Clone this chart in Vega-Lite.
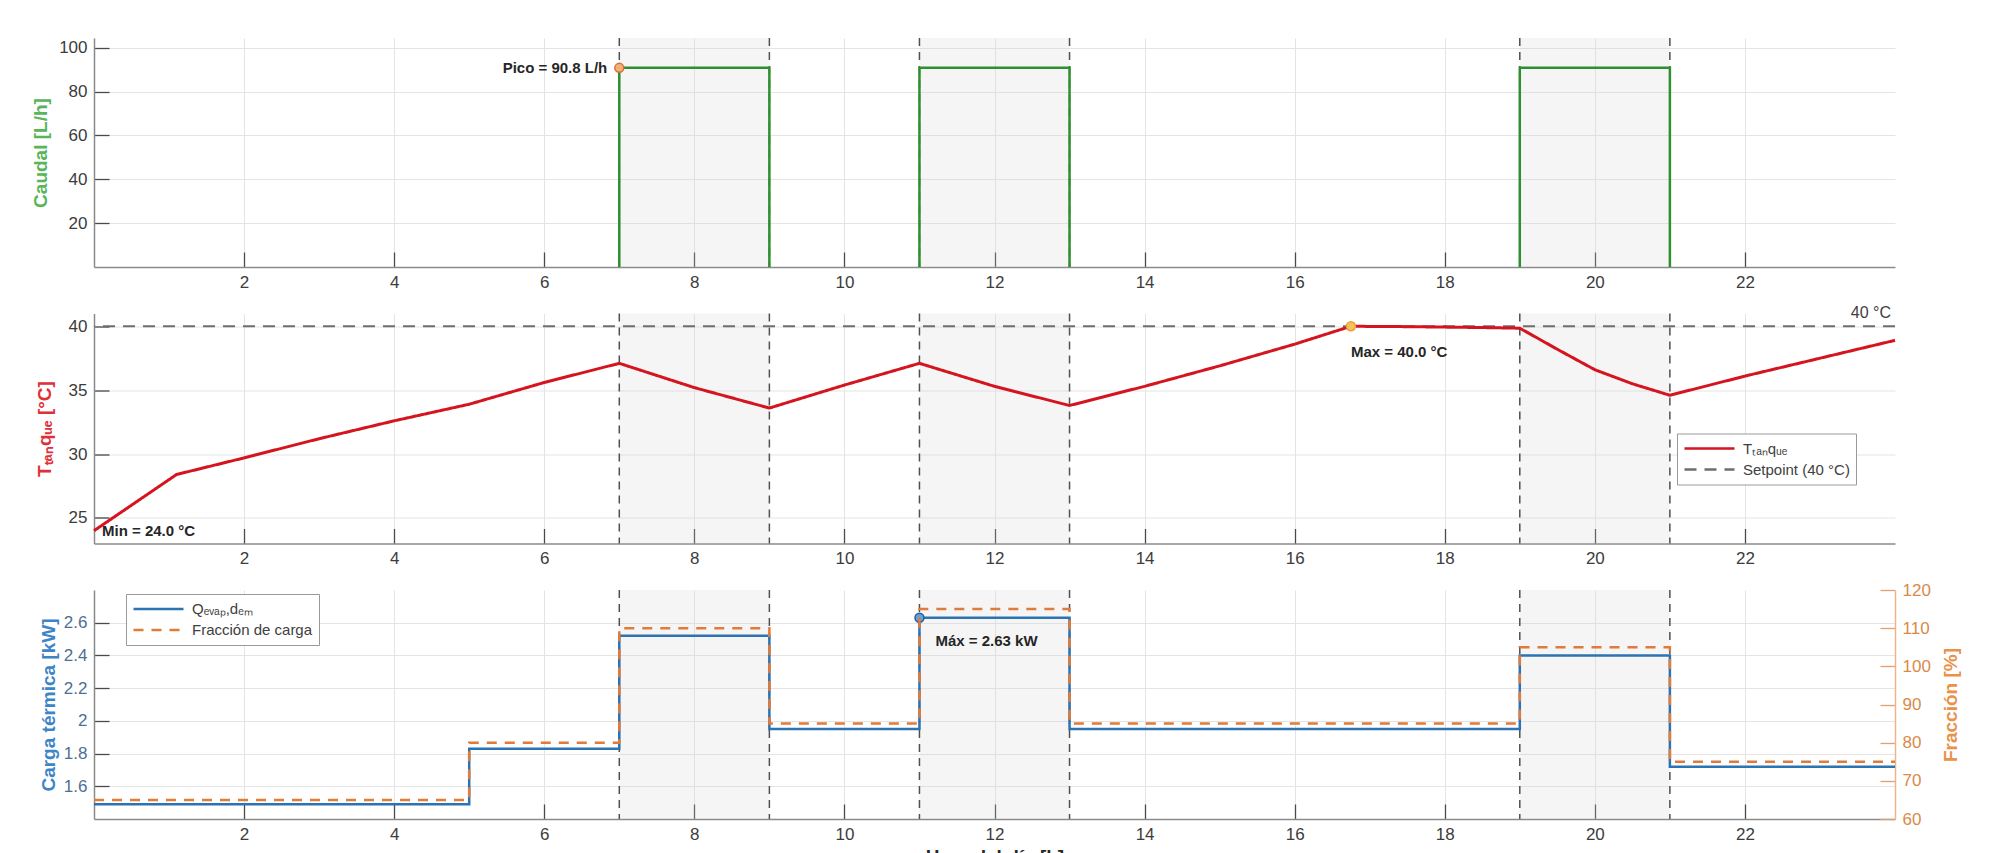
{
  "$schema": "https://vega.github.io/schema/vega-lite/v6.json",
  "padding": {"left": 31, "top": 37, "right": 5, "bottom": 0},
  "background": "white",
  "datasets": {
    "franjas": [{"t": 7, "t_fin": 9}, {"t": 11, "t_fin": 13}, {"t": 19, "t_fin": 21}],
    "eventos": [{"t": 7}, {"t": 9}, {"t": 11}, {"t": 13}, {"t": 19}, {"t": 21}],
    "caudal": [
      {"t": 7, "caudal": 0, "pulso": 1}, {"t": 7, "caudal": 90.8, "pulso": 1}, {"t": 9, "caudal": 90.8, "pulso": 1}, {"t": 9, "caudal": 0, "pulso": 1},
      {"t": 11, "caudal": 0, "pulso": 2}, {"t": 11, "caudal": 90.8, "pulso": 2}, {"t": 13, "caudal": 90.8, "pulso": 2}, {"t": 13, "caudal": 0, "pulso": 2},
      {"t": 19, "caudal": 0, "pulso": 3}, {"t": 19, "caudal": 90.8, "pulso": 3}, {"t": 21, "caudal": 90.8, "pulso": 3}, {"t": 21, "caudal": 0, "pulso": 3}
    ],
    "pico": [{"t": 7, "caudal": 90.8, "etiqueta": "Pico = 90.8 L/h"}],
    "temp": [
      {"t": 0, "T": 24.0, "serie": "Tₜₐₙqᵤₑ"}, {"t": 1.1, "T": 28.4, "serie": "Tₜₐₙqᵤₑ"},
      {"t": 2, "T": 29.7, "serie": "Tₜₐₙqᵤₑ"}, {"t": 3, "T": 31.2, "serie": "Tₜₐₙqᵤₑ"},
      {"t": 4, "T": 32.6, "serie": "Tₜₐₙqᵤₑ"}, {"t": 5, "T": 33.9, "serie": "Tₜₐₙqᵤₑ"},
      {"t": 6, "T": 35.6, "serie": "Tₜₐₙqᵤₑ"}, {"t": 7, "T": 37.1, "serie": "Tₜₐₙqᵤₑ"},
      {"t": 8, "T": 35.2, "serie": "Tₜₐₙqᵤₑ"}, {"t": 9, "T": 33.6, "serie": "Tₜₐₙqᵤₑ"},
      {"t": 10, "T": 35.4, "serie": "Tₜₐₙqᵤₑ"}, {"t": 11, "T": 37.1, "serie": "Tₜₐₙqᵤₑ"},
      {"t": 12, "T": 35.3, "serie": "Tₜₐₙqᵤₑ"}, {"t": 13, "T": 33.8, "serie": "Tₜₐₙqᵤₑ"},
      {"t": 14, "T": 35.3, "serie": "Tₜₐₙqᵤₑ"}, {"t": 15, "T": 36.9, "serie": "Tₜₐₙqᵤₑ"},
      {"t": 16, "T": 38.6, "serie": "Tₜₐₙqᵤₑ"}, {"t": 16.75, "T": 40.0, "serie": "Tₜₐₙqᵤₑ"},
      {"t": 17.5, "T": 39.97, "serie": "Tₜₐₙqᵤₑ"}, {"t": 18.5, "T": 39.9, "serie": "Tₜₐₙqᵤₑ"},
      {"t": 19, "T": 39.85, "serie": "Tₜₐₙqᵤₑ"}, {"t": 19.5, "T": 38.2, "serie": "Tₜₐₙqᵤₑ"},
      {"t": 20, "T": 36.6, "serie": "Tₜₐₙqᵤₑ"}, {"t": 20.5, "T": 35.5, "serie": "Tₜₐₙqᵤₑ"},
      {"t": 21, "T": 34.6, "serie": "Tₜₐₙqᵤₑ"}, {"t": 22, "T": 36.1, "serie": "Tₜₐₙqᵤₑ"},
      {"t": 23, "T": 37.5, "serie": "Tₜₐₙqᵤₑ"}, {"t": 24, "T": 38.9, "serie": "Tₜₐₙqᵤₑ"}
    ],
    "setpoint": [{"T": 40, "serie": "Setpoint (40 °C)"}],
    "tmin": [{"t": 0, "T": 24.0, "etiqueta": "Min = 24.0 °C"}],
    "tmax": [{"t": 16.75, "T": 40.0, "etiqueta": "Max = 40.0 °C"}],
    "splabel": [{"t": 24, "T": 40, "etiqueta": "40 °C"}],
    "carga": [
      {"t": 0, "Q": 1.49, "serie": "Qₑᵥₐₚ,dₑₘ"}, {"t": 5, "Q": 1.83, "serie": "Qₑᵥₐₚ,dₑₘ"},
      {"t": 7, "Q": 2.52, "serie": "Qₑᵥₐₚ,dₑₘ"}, {"t": 9, "Q": 1.95, "serie": "Qₑᵥₐₚ,dₑₘ"},
      {"t": 11, "Q": 2.63, "serie": "Qₑᵥₐₚ,dₑₘ"}, {"t": 13, "Q": 1.95, "serie": "Qₑᵥₐₚ,dₑₘ"},
      {"t": 19, "Q": 2.40, "serie": "Qₑᵥₐₚ,dₑₘ"}, {"t": 21, "Q": 1.72, "serie": "Qₑᵥₐₚ,dₑₘ"},
      {"t": 24, "Q": 1.72, "serie": "Qₑᵥₐₚ,dₑₘ"}
    ],
    "fraccion": [
      {"t": 0, "F": 65, "serie": "Fracción de carga"}, {"t": 5, "F": 80, "serie": "Fracción de carga"},
      {"t": 7, "F": 110, "serie": "Fracción de carga"}, {"t": 9, "F": 85, "serie": "Fracción de carga"},
      {"t": 11, "F": 115, "serie": "Fracción de carga"}, {"t": 13, "F": 85, "serie": "Fracción de carga"},
      {"t": 19, "F": 105, "serie": "Fracción de carga"}, {"t": 21, "F": 75, "serie": "Fracción de carga"},
      {"t": 24, "F": 75, "serie": "Fracción de carga"}
    ],
    "qmax": [{"t": 11, "Q": 2.63, "etiqueta": "Máx = 2.63 kW"}]
  },
  "vconcat": [
    {
      "width": 1801,
      "height": 229,
      "layer": [
        {
          "data": {"name": "franjas"},
          "mark": {"type": "rect", "color": "#d0d0d0", "opacity": 0.22},
          "encoding": {
            "x": {"field": "t", "type": "quantitative", "title": null,
                  "scale": {"domain": [0, 24], "nice": false, "zero": false},
                  "axis": {"values": [2, 4, 6, 8, 10, 12, 14, 16, 18, 20, 22]}},
            "x2": {"field": "t_fin"}
          }
        },
        {
          "data": {"name": "eventos"},
          "mark": {"type": "rule", "color": "#505050", "strokeDash": [8, 6], "strokeWidth": 1.5},
          "encoding": {"x": {"field": "t", "type": "quantitative", "title": null}}
        },
        {
          "data": {"name": "caudal"},
          "mark": {"type": "line", "color": "#2e8f2e", "strokeWidth": 2.5},
          "encoding": {
            "x": {"field": "t", "type": "quantitative", "title": null},
            "y": {"field": "caudal", "type": "quantitative", "title": "Caudal [L/h]",
                  "scale": {"domain": [0, 104.4], "nice": false},
                  "axis": {"values": [20, 40, 60, 80, 100], "titleColor": "#58b558", "titleX": -54}},
            "detail": {"field": "pulso", "type": "nominal"},
            "order": {"field": "orden_null", "type": "quantitative"}
          }
        },
        {
          "data": {"name": "pico"},
          "mark": {"type": "point", "shape": "circle", "filled": true, "fill": "#f0b07a", "stroke": "#d9702e", "strokeWidth": 1.5, "size": 80, "opacity": 1},
          "encoding": {
            "x": {"field": "t", "type": "quantitative", "title": null},
            "y": {"field": "caudal", "type": "quantitative", "title": "Caudal [L/h]"}
          }
        },
        {
          "data": {"name": "pico"},
          "mark": {"type": "text", "align": "right", "baseline": "middle", "dx": -12, "fontSize": 15, "fontWeight": "bold", "color": "#262626"},
          "encoding": {
            "x": {"field": "t", "type": "quantitative", "title": null},
            "y": {"field": "caudal", "type": "quantitative", "title": "Caudal [L/h]"},
            "text": {"field": "etiqueta"}
          }
        }
      ]
    },
    {
      "width": 1801,
      "height": 230,
      "layer": [
        {
          "data": {"name": "franjas"},
          "mark": {"type": "rect", "color": "#d0d0d0", "opacity": 0.22},
          "encoding": {
            "x": {"field": "t", "type": "quantitative", "title": null,
                  "scale": {"domain": [0, 24], "nice": false, "zero": false},
                  "axis": {"values": [2, 4, 6, 8, 10, 12, 14, 16, 18, 20, 22]}},
            "x2": {"field": "t_fin"}
          }
        },
        {
          "data": {"name": "eventos"},
          "mark": {"type": "rule", "color": "#505050", "strokeDash": [8, 6], "strokeWidth": 1.5},
          "encoding": {"x": {"field": "t", "type": "quantitative", "title": null}}
        },
        {
          "data": {"name": "setpoint"},
          "mark": {"type": "rule", "strokeWidth": 2},
          "encoding": {
            "y": {"field": "T", "type": "quantitative", "title": "Tₜₐₙqᵤₑ  [°C]",
                  "scale": {"domain": [23, 41], "nice": false, "zero": false},
                  "axis": {"values": [25, 30, 35, 40], "titleColor": "#e0303a", "titleX": -50}},
            "color": {"field": "serie", "type": "nominal",
                      "scale": {"domain": ["Tₜₐₙqᵤₑ", "Setpoint (40 °C)"], "range": ["#d4151f", "#6e6e6e"]},
                      "legend": {"orient": "none", "legendX": 1583, "legendY": 120, "title": null}},
            "strokeDash": {"field": "serie", "type": "nominal",
                           "scale": {"domain": ["Tₜₐₙqᵤₑ", "Setpoint (40 °C)"], "range": [[1, 0], [12, 8]]},
                           "legend": {"orient": "none", "legendX": 1583, "legendY": 120, "title": null}}
          }
        },
        {
          "data": {"name": "temp"},
          "mark": {"type": "line", "strokeWidth": 3},
          "encoding": {
            "x": {"field": "t", "type": "quantitative", "title": null},
            "y": {"field": "T", "type": "quantitative", "title": "Tₜₐₙqᵤₑ  [°C]"},
            "color": {"field": "serie", "type": "nominal"},
            "strokeDash": {"field": "serie", "type": "nominal"}
          }
        },
        {
          "data": {"name": "tmax"},
          "mark": {"type": "point", "shape": "circle", "filled": true, "fill": "#f5c060", "stroke": "#e8a030", "strokeWidth": 1.5, "size": 80, "opacity": 1},
          "encoding": {
            "x": {"field": "t", "type": "quantitative", "title": null},
            "y": {"field": "T", "type": "quantitative", "title": "Tₜₐₙqᵤₑ  [°C]"}
          }
        },
        {
          "data": {"name": "tmax"},
          "mark": {"type": "text", "align": "left", "baseline": "middle", "dx": 0, "dy": 26, "fontSize": 15, "fontWeight": "bold", "color": "#262626"},
          "encoding": {
            "x": {"field": "t", "type": "quantitative", "title": null},
            "y": {"field": "T", "type": "quantitative", "title": "Tₜₐₙqᵤₑ  [°C]"},
            "text": {"field": "etiqueta"}
          }
        },
        {
          "data": {"name": "tmin"},
          "mark": {"type": "text", "align": "left", "baseline": "middle", "dx": 8, "fontSize": 15, "fontWeight": "bold", "color": "#262626"},
          "encoding": {
            "x": {"field": "t", "type": "quantitative", "title": null},
            "y": {"field": "T", "type": "quantitative", "title": "Tₜₐₙqᵤₑ  [°C]"},
            "text": {"field": "etiqueta"}
          }
        },
        {
          "data": {"name": "splabel"},
          "mark": {"type": "text", "align": "right", "baseline": "middle", "dx": -4, "dy": -13, "fontSize": 16, "color": "#404040"},
          "encoding": {
            "x": {"field": "t", "type": "quantitative", "title": null},
            "y": {"field": "T", "type": "quantitative", "title": "Tₜₐₙqᵤₑ  [°C]"},
            "text": {"field": "etiqueta"}
          }
        }
      ]
    },
    {
      "width": 1801,
      "height": 229,
      "resolve": {"scale": {"y": "independent"}},
      "layer": [
        {
          "layer": [
            {
              "data": {"name": "franjas"},
              "mark": {"type": "rect", "color": "#d0d0d0", "opacity": 0.22},
              "encoding": {
                "x": {"field": "t", "type": "quantitative", "title": "Hora del día [h]",
                      "scale": {"domain": [0, 24], "nice": false, "zero": false},
                      "axis": {"values": [2, 4, 6, 8, 10, 12, 14, 16, 18, 20, 22], "titlePadding": 5, "titleFontSize": 19, "titleColor": "#262626"}},
                "x2": {"field": "t_fin"}
              }
            },
            {
              "data": {"name": "eventos"},
              "mark": {"type": "rule", "color": "#505050", "strokeDash": [8, 6], "strokeWidth": 1.5},
              "encoding": {"x": {"field": "t", "type": "quantitative", "title": "Hora del día [h]"}}
            },
            {
              "data": {"name": "carga"},
              "mark": {"type": "line", "interpolate": "step-after", "strokeWidth": 2.5},
              "encoding": {
                "x": {"field": "t", "type": "quantitative", "title": "Hora del día [h]"},
                "y": {"field": "Q", "type": "quantitative", "title": "Carga térmica [kW]",
                      "scale": {"domain": [1.4, 2.8], "nice": false, "zero": false},
                      "axis": {"values": [1.6, 1.8, 2.0, 2.2, 2.4, 2.6], "format": ".1~f", "titleColor": "#3d85c6", "labelColor": "#4d6f94", "titleX": -46}},
                "color": {"field": "serie", "type": "nominal",
                          "scale": {"domain": ["Qₑᵥₐₚ,dₑₘ", "Fracción de carga"], "range": ["#2b73b3", "#e07b39"]},
                          "legend": {"orient": "none", "legendX": 32, "legendY": 4, "title": null}},
                "strokeDash": {"field": "serie", "type": "nominal",
                               "scale": {"domain": ["Qₑᵥₐₚ,dₑₘ", "Fracción de carga"], "range": [[1, 0], [10, 8]]},
                               "legend": {"orient": "none", "legendX": 32, "legendY": 4, "title": null}}
              }
            },
            {
              "data": {"name": "qmax"},
              "mark": {"type": "point", "shape": "circle", "filled": true, "fill": "#6a9fd0", "stroke": "#1f5f9f", "strokeWidth": 1.5, "size": 80, "opacity": 1},
              "encoding": {
                "x": {"field": "t", "type": "quantitative", "title": "Hora del día [h]"},
                "y": {"field": "Q", "type": "quantitative", "title": "Carga térmica [kW]"}
              }
            },
            {
              "data": {"name": "qmax"},
              "mark": {"type": "text", "align": "left", "baseline": "middle", "dx": 16, "dy": 23, "fontSize": 15, "fontWeight": "bold", "color": "#262626"},
              "encoding": {
                "x": {"field": "t", "type": "quantitative", "title": "Hora del día [h]"},
                "y": {"field": "Q", "type": "quantitative", "title": "Carga térmica [kW]"},
                "text": {"field": "etiqueta"}
              }
            }
          ]
        },
        {
          "data": {"name": "fraccion"},
          "mark": {"type": "line", "interpolate": "step-after", "strokeWidth": 2.5},
          "encoding": {
            "x": {"field": "t", "type": "quantitative", "title": "Hora del día [h]"},
            "y": {"field": "F", "type": "quantitative", "title": "Fracción [%]",
                  "scale": {"domain": [60, 120], "nice": false, "zero": false},
                  "axis": {"orient": "right", "values": [60, 70, 80, 90, 100, 110, 120], "grid": false,
                           "titleColor": "#e8924a", "labelColor": "#d98a4a", "domainColor": "#f0b48a", "tickColor": "#e0a070",
                           "titleAngle": 270, "titleX": 55}},
            "color": {"field": "serie", "type": "nominal"},
            "strokeDash": {"field": "serie", "type": "nominal"}
          }
        }
      ]
    }
  ],
  "spacing": 46.5,
  "bounds": "flush",
  "resolve": {"scale": {"color": "independent", "strokeDash": "independent"}, "legend": {"color": "independent", "strokeDash": "independent"}},
  "config": {
    "font": "Liberation Sans",
    "view": {"stroke": null},
    "axis": {
      "labelFont": "Liberation Sans", "labelFontSize": 17, "labelColor": "#3c3c3c",
      "domainColor": "#8a8a8a", "domainWidth": 1.5,
      "gridColor": "#e4e4e4", "gridWidth": 1,
      "ticks": true, "tickColor": "#4a4a4a", "tickSize": -15, "tickWidth": 1.3, "labelPadding": 22,
      "titleFont": "Liberation Sans", "titleFontWeight": "bold", "titleFontSize": 19
    },
    "axisX": {"format": "d", "titleBaseline": "top"},
    "axisY": {"titleBaseline": "middle"},
    "legend": {
      "fillColor": "white", "strokeColor": "#9a9a9a", "padding": 6,
      "labelFont": "Liberation Sans", "labelFontSize": 15, "labelColor": "#404040",
      "symbolType": "stroke", "symbolSize": 2500, "symbolStrokeWidth": 2.5,
      "rowPadding": 3, "labelOffset": 7, "clipHeight": 18
    }
  }
}
